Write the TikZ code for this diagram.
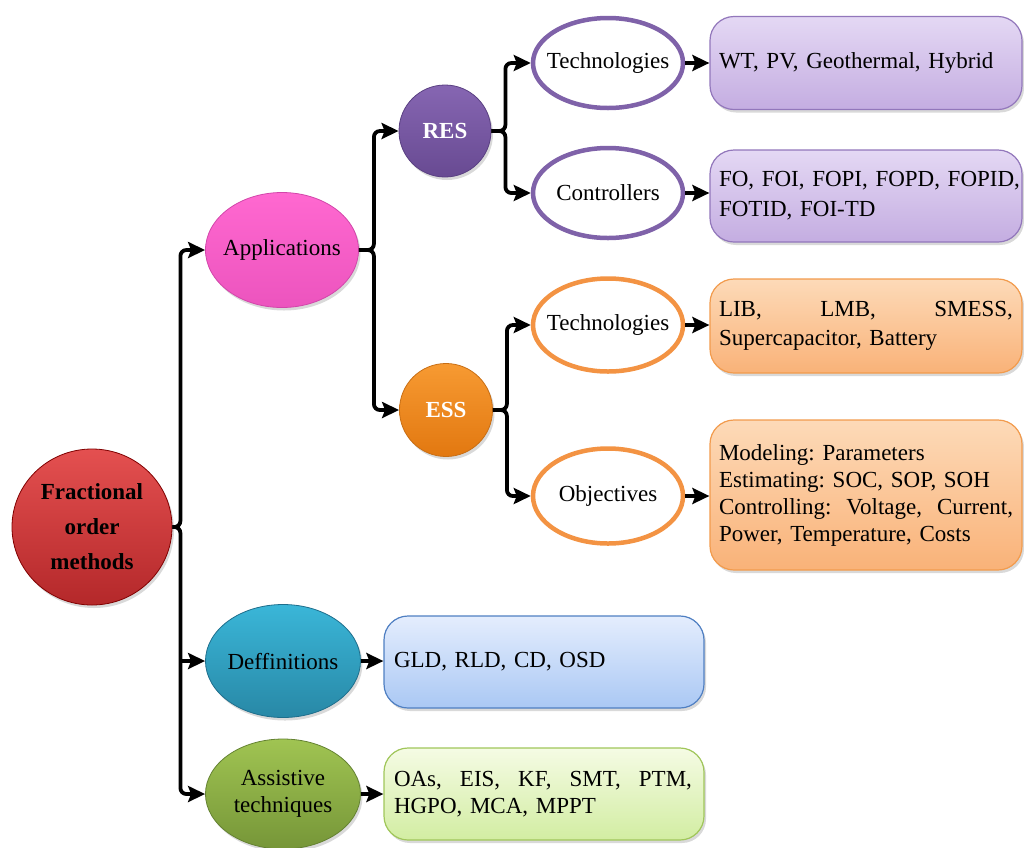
\documentclass[tikz,border=0pt]{standalone}
\usepackage{fontspec}
\setmainfont{Liberation Serif}
\usetikzlibrary{shapes.geometric,shadows,arrows.meta,calc}
\definecolor{purpleline}{HTML}{7F62A9}
\definecolor{orangeline}{HTML}{F39343}
\newcommand{\nodelabel}[1]{\makebox[0pt]{#1}}
\newcommand{\nodelines}[1]{\makebox[0pt]{\begin{tabular}{@{}c@{}}#1\end{tabular}}}
\frenchspacing
\begin{document}
\begin{tikzpicture}[x=1pt,y=-1pt,
  every node/.style={font=\fontsize{23}{28}\selectfont},
  conn/.style={line width=3.8pt, -{Stealth[length=17pt,width=16pt,inset=3pt]}},
  bracepath/.style={line width=3.8pt, rounded corners=6pt, shorten >=10pt},
  shad/.style={drop shadow={opacity=0.3, shadow xshift=2pt, shadow yshift=-3pt}},
  ballnode/.style={ellipse, inner sep=0pt, line width=0.8pt, shad},
  ringnode/.style={ellipse, draw=#1, line width=4.5pt, fill=white, inner sep=0pt, minimum width=150pt, minimum height=90pt},
  boxnode/.style={rounded corners=24pt, line width=1.2pt, shad, inner xsep=9pt, align=left},
]
\useasboundingbox (0,0) rectangle (1024,847);

% root and first-level nodes
\node[ballnode, draw=red!50!black, top color={rgb,255:red,228;green,80;blue,80}, bottom color={rgb,255:red,180;green,40;blue,42},
      minimum width=160pt, minimum height=156pt, font=\bfseries\fontsize{23}{35}\selectfont] (fom) at (92,527) {\nodelines{Fractional\\order\\methods}};
\node[ballnode, draw={rgb,255:red,210;green,70;blue,170}, top color={rgb,255:red,255;green,104;blue,208}, bottom color={rgb,255:red,236;green,84;blue,190},
      minimum width=153pt, minimum height=115pt] (app) at (282,250) {\nodelabel{Applications}};
\node[ballnode, draw={rgb,255:red,30;green,110;blue,140}, top color={rgb,255:red,58;green,182;blue,216}, bottom color={rgb,255:red,40;green,136;blue,166},
      minimum width=155pt, minimum height=113pt] (def) at (283,661) {\nodelabel{Deffinitions}};
\node[ballnode, draw={rgb,255:red,100;green,130;blue,50}, top color={rgb,255:red,160;green,196;blue,82}, bottom color={rgb,255:red,118;green,150;blue,56},
      minimum width=155pt, minimum height=110pt, font=\fontsize{23}{27}\selectfont] (ast) at (283,794) {\nodelines{Assistive\\techniques}};

% RES / ESS
\node[ballnode, draw={rgb,255:red,90;green,64;blue,130}, top color={rgb,255:red,134;green,102;blue,178}, bottom color={rgb,255:red,104;green,74;blue,146},
      circle, minimum size=92pt, text=white, font=\bfseries\fontsize{23}{28}\selectfont] (res) at (445,131) {RES};
\node[ballnode, draw={rgb,255:red,200;green,110;blue,20}, top color={rgb,255:red,247;green,154;blue,50}, bottom color={rgb,255:red,226;green,120;blue,16},
      circle, minimum size=93pt, text=white, font=\bfseries\fontsize{23}{28}\selectfont] (ess) at (446,410) {ESS};

% ring ellipses
\node[ringnode=purpleline] (rtech) at (608,63) {\nodelabel{Technologies}};
\node[ringnode=purpleline] (rctrl) at (608,193) {\nodelabel{Controllers}};
\node[ringnode=orangeline, minimum height=93pt] (etech) at (608,325) {\nodelabel{Technologies}};
\node[ringnode=orangeline, minimum height=95pt] (eobj) at (608,496) {\nodelabel{Objectives}};

% right boxes
\node[boxnode, draw={rgb,255:red,146;green,119;blue,187}, top color={rgb,255:red,228;green,216;blue,244}, bottom color={rgb,255:red,196;green,173;blue,225},
      minimum width=312pt, minimum height=93pt, text width=294pt] (wt) at (866,63) {WT, PV, Geothermal, Hybrid};
\node[boxnode, draw={rgb,255:red,146;green,119;blue,187}, top color={rgb,255:red,228;green,216;blue,244}, bottom color={rgb,255:red,196;green,173;blue,225},
      minimum width=312pt, minimum height=92pt, text width=294pt, font=\fontsize{23}{30}\selectfont] (fo) at (866,196) {\mbox{FO, FOI, FOPI, FOPD, FOPID,}\\FOTID, FOI-TD};
\node[boxnode, draw={rgb,255:red,242;green,155;blue,77}, top color={rgb,255:red,253;green,218;blue,184}, bottom color={rgb,255:red,249;green,178;blue,120},
      minimum width=312pt, minimum height=94pt, text width=294pt, font=\fontsize{23}{29}\selectfont] (lib) at (866,326) {\makebox[294pt][l]{LIB,\hfill LMB,\hfill SMESS,}\\Supercapacitor, Battery};
\node[boxnode, draw={rgb,255:red,242;green,155;blue,77}, top color={rgb,255:red,253;green,218;blue,184}, bottom color={rgb,255:red,249;green,178;blue,120},
      minimum width=312pt, minimum height=150pt, text width=294pt, font=\fontsize{23}{27}\selectfont] (mod) at (866,495)
      {Modeling: Parameters\\Estimating: SOC, SOP, SOH\\\makebox[294pt][l]{Controlling:\hfill Voltage,\hfill Current,}\\Power, Temperature, Costs};

% lower boxes
\node[boxnode, draw={rgb,255:red,79;green,127;blue,194}, top color={rgb,255:red,228;green,237;blue,253}, bottom color={rgb,255:red,170;green,200;blue,244},
      minimum width=320pt, minimum height=92pt, text width=300pt] (gld) at (544,662) {GLD, RLD, CD, OSD};
\node[boxnode, draw={rgb,255:red,160;green,198;blue,90}, top color={rgb,255:red,245;green,251;blue,228}, bottom color={rgb,255:red,210;green,237;blue,162},
      minimum width=320pt, minimum height=92pt, text width=300pt, font=\fontsize{23}{27}\selectfont] (oas) at (544,794) {\makebox[298pt][l]{OAs,\hfill EIS,\hfill KF,\hfill SMT,\hfill PTM,}\\HGPO, MCA, MPPT};

% brace points
\coordinate (mb) at ($(fom.east)+(8,0)$);
\coordinate (ab) at ($(app.east)+(15,0)$);
\coordinate (rb) at ($(res.east)+(14,0)$);
\coordinate (eb) at ($(ess.east)+(14,0)$);

% braces (lines) and their arrow tips
\draw[bracepath] (fom.east) -- (mb) |- (app.west);
\draw[bracepath] (fom.east) -- (mb) |- (ast.west);
\draw[conn] ($(app.west)+(-18,0)$) -- (app.west);
\draw[conn] ($(ast.west)+(-18,0)$) -- (ast.west);
\draw[conn] (mb |- def.west) -- (def.west);

\draw[bracepath] (app.east) -- (ab) |- (res.west);
\draw[bracepath] (app.east) -- (ab) |- (ess.west);
\draw[conn] ($(res.west)+(-18,0)$) -- (res.west);
\draw[conn] ($(ess.west)+(-18,0)$) -- (ess.west);

\draw[bracepath] (res.east) -- (rb) |- (rtech.west);
\draw[bracepath] (res.east) -- (rb) |- (rctrl.west);
\draw[conn] ($(rtech.west)+(-18,0)$) -- (rtech.west);
\draw[conn] ($(rctrl.west)+(-18,0)$) -- (rctrl.west);

\draw[bracepath] (ess.east) -- (eb) |- (etech.west);
\draw[bracepath] (ess.east) -- (eb) |- (eobj.west);
\draw[conn] ($(etech.west)+(-18,0)$) -- (etech.west);
\draw[conn] ($(eobj.west)+(-18,0)$) -- (eobj.west);

% straight arrows to the boxes
\draw[conn] (rtech.east) -- (rtech.east -| wt.west);
\draw[conn] (rctrl.east) -- (rctrl.east -| fo.west);
\draw[conn] (etech.east) -- (etech.east -| lib.west);
\draw[conn] (eobj.east) -- (eobj.east -| mod.west);
\draw[conn] (def.east) -- (def.east -| gld.west);
\draw[conn] (ast.east) -- (ast.east -| oas.west);
\end{tikzpicture}
\end{document}
